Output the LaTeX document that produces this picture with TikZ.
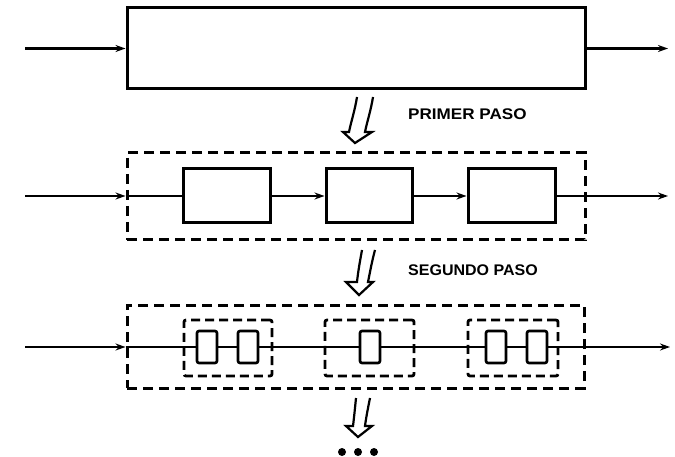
\documentclass[tikz,border=0pt]{standalone}
\usepackage{fontspec}
\setmainfont{Liberation Sans}
\usetikzlibrary{arrows.meta}
\begin{document}
\begin{tikzpicture}[x=1pt,y=-1pt,
  solidbox/.style={draw,line width=3pt,minimum width=#1,inner sep=0pt},
  outerdash/.style={draw,line width=3pt,dash pattern=on 10pt off 6pt,inner sep=0pt},
  groupdash/.style={draw,line width=2.8pt,dash pattern=on 9pt off 5pt,rounded corners=2pt,inner sep=0pt},
  smallbox/.style={draw,line width=2.6pt,rounded corners=2pt,minimum width=20pt,minimum height=32pt,inner sep=0pt},
  conn/.style={line width=2.3pt},
  arr/.style={line width=2.3pt,-{Stealth[length=10pt,width=7pt]}},
  hollow/.style={line width=2.2pt,line join=miter},
  lab/.style={anchor=west,inner sep=0pt,font=\bfseries\fontsize{15.4}{16}\selectfont}]
\useasboundingbox (0,0) rectangle (675,457);

% Row 1
\node[solidbox=458pt,minimum height=81pt] (A) at (356,48.5) {};
\coordinate (Ain) at (25,48.5);
\coordinate (Aout) at (668,48.5);
\draw[arr] (Ain) -- (A.west);
\draw[arr] (A.east) -- (Aout);

% hollow arrow 1
\draw[hollow] (357,97) .. controls (355,110) and (351,122) .. (349,132) -- (343,132) -- (355,143) -- (372,132) -- (365,132) .. controls (367,122) and (371,110) .. (373,97);
\node[lab] (L1) at (408,114.5) {\scalebox{1.11}[1]{PRIMER PASO}};

% Row 2
\node[outerdash,minimum width=458pt,minimum height=87pt] (B) at (356,196.5) {};
\node[solidbox=87pt,minimum height=54pt] (B1) at (226.5,196) {};
\node[solidbox=86pt,minimum height=54pt] (B2) at (369,196) {};
\node[solidbox=87pt,minimum height=54pt] (B3) at (511.5,196) {};
\coordinate (Bin) at (25,196);
\coordinate (Bout) at (668,196);
\draw[arr] (Bin) -- (B.west |- Bin);
\draw[conn] (B.west |- Bin) -- (B1.west);
\draw[arr] (B1.east) -- (B2.west);
\draw[arr] (B2.east) -- (B3.west);
\draw[conn] (B3.east) -- (B.east |- Bin);
\draw[arr] (B.east |- Bin) -- (Bout);

% hollow arrow 2
\draw[hollow] (362,250) .. controls (360,261) and (358,272) .. (357,282) -- (346,282) -- (359,295) -- (373,282) -- (368,282) .. controls (370,272) and (372,261) .. (375,250);
\node[lab] (L2) at (408,270) {\scalebox{1.04}[1]{SEGUNDO PASO}};

% Row 3
\node[outerdash,minimum width=457pt,minimum height=83pt] (C) at (355.5,346.5) {};
\node[groupdash,minimum width=88pt,minimum height=56pt] (G1) at (228,348) {};
\node[groupdash,minimum width=89pt,minimum height=56pt] (G2) at (369.5,348) {};
\node[groupdash,minimum width=90pt,minimum height=56pt] (G3) at (513,348) {};
\node[smallbox] (S11) at (207,347) {};
\node[smallbox] (S12) at (248,347) {};
\node[smallbox] (S21) at (370,347) {};
\node[smallbox] (S31) at (496,347) {};
\node[smallbox] (S32) at (537,347) {};
\coordinate (Cin) at (25,347);
\coordinate (Cout) at (670,347);
\draw[arr] (Cin) -- (C.west |- Cin);
\draw[conn] (C.west |- Cin) -- (S11.west);
\draw[conn] (S11.east) -- (S12.west);
\draw[conn] (S12.east) -- (S21.west);
\draw[conn] (S21.east) -- (S31.west);
\draw[conn] (S31.east) -- (S32.west);
\draw[conn] (S32.east) -- (C.east |- Cin);
\draw[arr] (C.east |- Cin) -- (Cout);

% hollow arrow 3
\draw[hollow] (356,398) .. controls (355,408) and (354,418) .. (353,426) -- (346,426) -- (358,437) -- (372,426) -- (365,426) .. controls (366,418) and (368,408) .. (370,398);

% dots
\fill (342,452) circle (4pt);
\fill (358,452) circle (4pt);
\fill (374,452) circle (4pt);
\end{tikzpicture}
\end{document}
